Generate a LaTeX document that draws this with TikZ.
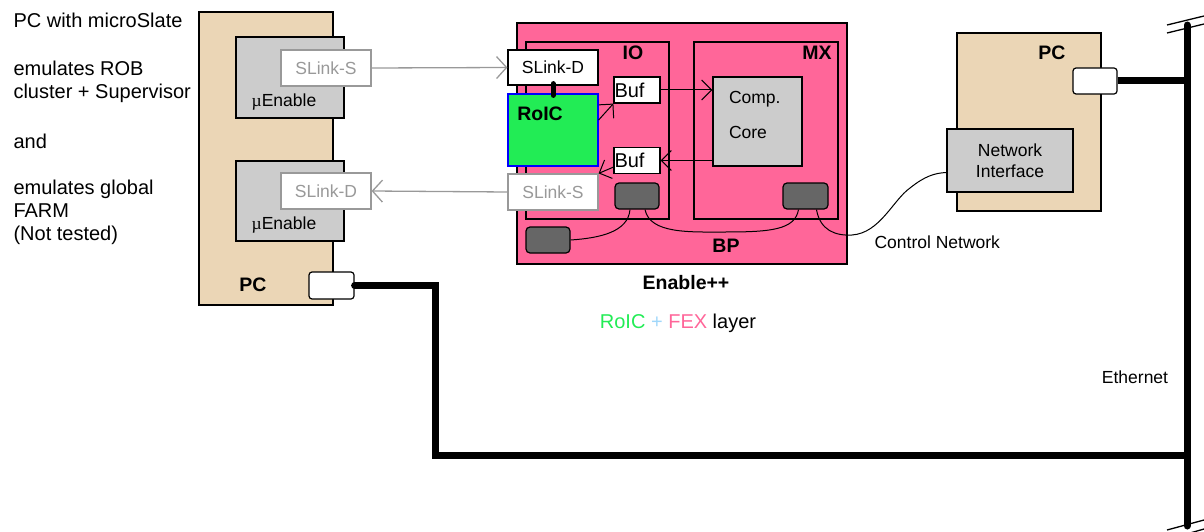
\documentclass[tikz,border=0pt]{standalone}
\usepackage{fontspec}
\setmainfont{Liberation Sans}
\newfontfamily\mufont{Liberation Serif}
\usetikzlibrary{arrows.meta}
\definecolor{pctan}{RGB}{235,214,182}
\definecolor{boxgray}{RGB}{204,204,204}
\definecolor{fexpink}{RGB}{255,102,153}
\definecolor{roicgreen}{RGB}{34,236,85}
\definecolor{plusblue}{RGB}{160,215,250}
\definecolor{blockgray}{RGB}{102,102,102}
\definecolor{linkgray}{RGB}{153,153,153}
\begin{document}
\begin{tikzpicture}[x=1pt, y=-1pt,
        font=\fontsize{17.5}{21}\selectfont,
        bx/.style ={draw, line width=1.2pt, inner sep=0pt},
        pcbox/.style={bx, fill=pctan},
        gbox/.style={bx, fill=boxgray},
        lnk/.style={bx, fill=white, minimum width=90pt, minimum height=36pt},
        glnk/.style={lnk, draw=linkgray, text=linkgray},
        blk/.style={bx, fill=blockgray, rounded corners=4pt, minimum width=44pt, minimum height=26pt},
        port/.style={bx, fill=white, rounded corners=3pt, minimum width=45pt, minimum height=27pt},
        buf/.style={bx, fill=white, minimum width=46pt, minimum height=26pt, text width=45pt, align=left,
                    font=\fontsize{20}{22}\selectfont},
        lbl/.style={font=\fontsize{19.5}{22}\selectfont\bfseries},
        side/.style={anchor=west, align=left, font=\fontsize{20}{23}\selectfont},
        gline/.style={linkgray, line width=1.3pt, -{Straight Barb[length=10pt, width=22pt, line width=1.3pt]}},
        bline/.style={line width=1pt, -{Straight Barb[length=10pt, width=20pt, line width=1pt]}},
        cable/.style={line width=1pt},
        eth/.style={line width=7pt}]
    \useasboundingbox (0,0) rectangle (1204,532);
% text on the left
    \node[side] (t1) at (10,20) {PC with microSlate};
    \node[side] (t2) at (10,81.5) {emulates ROB\\cluster + Supervisor};
    \node[side] (t3) at (10,141) {and};
    \node[side] (t4) at (10,212) {emulates global\\FARM\\(Not tested)};
% PC with two microEnables
    \node[pcbox, minimum width=134pt, minimum height=293pt] (pcL) at (266,158.5) {};
    \node[gbox, minimum width=108pt, minimum height=81pt] (ueA) at (290,77.5) {};
    \node[gbox, minimum width=108pt, minimum height=80pt] (ueB) at (290,201) {};
    \node[glnk] (slsA) at (326,68) {SLink-S};
    \node[glnk] (sldB) at (326,191) {SLink-D};
    \node (ueAt) at (284,102) {{\mufont µ}Enable};
    \node (ueBt) at (284,225) {{\mufont µ}Enable};
    \node[lbl] (pcLt) at (253,285) {PC};
    \node[port] (portL) at (331.5,285.5) {};
% Enable++ board
    \node[bx, fill=fexpink, minimum width=330pt, minimum height=241pt] (enb) at (682,143.5) {};
    \node[bx, minimum width=143pt, minimum height=177pt] (io) at (597.5,130.5) {};
    \node[bx, minimum width=144pt, minimum height=177pt] (mx) at (766,130.5) {};
    \node[lbl] (iot) at (633,53) {IO};
    \node[lbl] (mxt) at (817,53) {MX};
    \node[lnk, minimum height=35pt] (sldE) at (553,67.5) {SLink-D};
    \node[bx, draw=blue, fill=roicgreen, minimum width=90pt, minimum height=72pt] (roic) at (553,130) {};
    \node[lbl] (roict) at (540,114) {RoIC};
    \node[glnk] (slsE) at (553,192) {SLink-S};
    \node[buf] (bufA) at (637,90) {Buf};
    \node[buf] (bufB) at (637,160.5) {Buf};
    \node[gbox, minimum width=89pt, minimum height=89pt] (comp) at (757.5,121.5) {};
    \node[align=left, text width=58pt] (compt) at (758,114.5) {Comp.\\[14pt]Core};
    \node[blk] (ioblk) at (637,196) {};
    \node[blk, minimum width=45pt] (mxblk) at (805.5,196) {};
    \node[blk] (bpblk) at (548,240) {};
    \node[lbl] (bpt) at (726,246) {BP};
    \node[lbl] (enbt) at (686,283) {Enable++};
    \node[font=\fontsize{20}{22}\selectfont] (layer) at (678,323)
        {{\color{roicgreen}RoIC} {\color{plusblue}+} {\color{fexpink}FEX} layer};
% second PC
    \node[pcbox, minimum width=144pt, minimum height=178pt] (pcR) at (1029,122) {};
    \node[lbl] (pcRt) at (1052,53) {PC};
    \node[port, minimum width=44pt, minimum height=26pt] (portR) at (1095,81) {};
    \node[gbox, minimum width=126pt, minimum height=63pt, align=center] (netif) at (1010,160.5) {Network\\Interface};
    \node[anchor=west] (ctrlt) at (871,242) {Control Network};
    \node (etht) at (1135,377) {Ethernet};
% links
    \draw[gline] (slsA.east) -- (sldE.west);
    \draw[gline] (slsE.west) -- (sldB.east);
    \draw[line width=5pt, line cap=round] ([yshift=2pt]sldE.south) -- ([yshift=-2pt]roic.north);
    \draw[bline] ([yshift=10pt]roic.east) -- (bufA.south west);
    \draw[bline] (bufA.east) -- (bufA.east -| comp.west);
    \draw[bline] (bufB.east -| comp.west) -- (bufB.east);
    \draw[bline] ([yshift=7pt]bufB.south west) -- (slsE.north east);
% control network cables
    \draw[cable] (bpblk.east) .. controls (600,238) and (628,232) .. ([xshift=-7pt]ioblk.south);
    \draw[cable] ([xshift=8pt]ioblk.south) .. controls (650,234) and (690,232) .. (725,232)
                 .. controls (770,232) and (795,230) .. ([xshift=-7pt]mxblk.south);
    \draw[cable] ([xshift=11pt]mxblk.south) .. controls (820,230) and (835,236) .. (852,235)
                 .. controls (880,233) and (893,200) .. (910,188)
                 .. controls (925,176) and (935,173) .. ([yshift=-12pt]netif.west);
% ethernet
    \coordinate (eA) at (435,285.5);
    \coordinate (eB) at (435,455);
    \coordinate (eC) at (1187,455);
    \coordinate (eTop) at (1187,25);
    \coordinate (eBot) at (1187,526);
    \draw[eth, line cap=round] (portL.east) -- (eA) -- (eB) -- (eC);
    \draw[eth, line cap=round] (eTop) -- (eBot);
    \draw[eth] (portR.east) -- (portR.east -| eTop);
    \draw[line width=1.3pt] (1167,25) -- (1204,16) (1167,33) -- (1204,24);
    \draw[line width=1.3pt] (1167,530) -- (1204,520) (1183,535) -- (1204,529);
\end{tikzpicture}
\end{document}
